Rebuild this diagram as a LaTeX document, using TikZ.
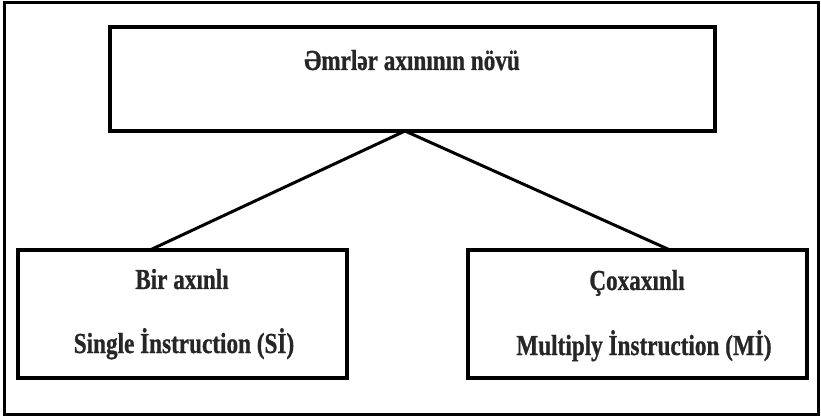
\documentclass[tikz,border=0pt]{standalone}
\usepackage{fontspec}
\setmainfont{Liberation Serif}
\newfontfamily\boxfont[FakeStretch=0.8,FakeBold=0.8]{Liberation Serif}
\usetikzlibrary{calc}
\begin{document}
\begin{tikzpicture}[x=1pt,y=-1pt,
  frame/.style={draw,line width=3pt},
  box/.style={draw,line width=3.6pt,outer sep=0pt,inner sep=0pt},
  lbl/.style={font=\boxfont\bfseries\fontsize{29}{34}\selectfont,anchor=base,inner sep=0pt,text=black!85},
  link/.style={line width=3pt}]
\useasboundingbox (0,0) rectangle (821,419);
% outer frame
\draw[frame] (4,3) rectangle (818,414);
% boxes
\node[box,minimum width=605pt,minimum height=104pt] (top) at (412.5,79) {};
\node[box,minimum width=329pt,minimum height=128pt] (single) at (182.5,314) {};
\node[box,minimum width=339pt,minimum height=128pt] (multi) at (637.5,314) {};
% labels
\node[lbl] (ttl) at (412,70) {Əmrlər axınının növü};
\node[lbl] (s1) at (182,289) {Bir axınlı};
\node[lbl] (s2) at (184,353) {Single İnstruction (Sİ)};
\node[lbl] (m1) at (637,290) {Çoxaxınlı};
\node[lbl] (m2) at (644,355) {Multiply İnstruction (Mİ)};
% connectors
\coordinate (apex) at ($(top.south)+(-7.5,0)$);
\coordinate (sj) at ($(single.north west)+(132,0)$);
\coordinate (mj) at ($(multi.north west)+(202,0)$);
\draw[link] (sj) -- (apex) -- (mj);
\end{tikzpicture}
\end{document}
